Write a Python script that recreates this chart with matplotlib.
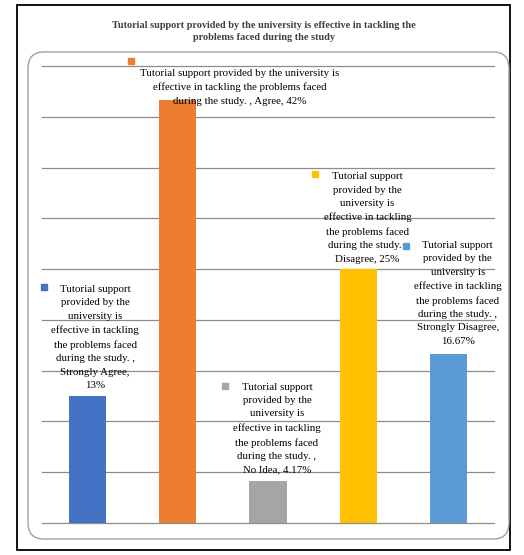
import numpy as np
import matplotlib
matplotlib.use("Agg")
import matplotlib.pyplot as plt
import matplotlib.transforms as mtransforms
from matplotlib.patches import Rectangle, FancyBboxPatch

# chart data
categories = ["Strongly Agree", "Agree", "No Idea", "Disagree", "Strongly Disagree"]
values = [12.5, 41.67, 4.17, 25.0, 16.67]
value_text = ["13%", "42%", "4.17%", "25%", "16.67%"]
colors = ["#4472C4", "#ED7D31", "#A5A5A5", "#FFC000", "#5B9BD5"]
series_name = "Tutorial support provided by the university is effective in tackling the problems faced during the study. "
title = "Tutorial support provided by the university is effective in tackling the\nproblems faced during the study"

# label wrapping (as Excel did it)
label_lines = [
    ["Tutorial support", "provided by the", "university is", "effective in tackling",
     "the problems faced", "during the study. ,", "Strongly Agree,", "13%"],
    ["Tutorial support provided by the university is", "effective in tackling the problems faced",
     "during the study. , Agree, 42%"],
    ["Tutorial support", "provided by the", "university is", "effective in tackling",
     "the problems faced", "during the study. ,", "No Idea, 4.17%"],
    ["Tutorial support", "provided by the", "university is", "effective in tackling",
     "the problems faced", "during the study. ,", "Disagree, 25%"],
    ["Tutorial support", "provided by the", "university is", "effective in tackling",
     "the problems faced", "during the study. ,", "Strongly Disagree,", "16.67%"],
]
# label placement relative to bar top (pixels): text block top-centre, legend key
text_offsets = [(8, 111), (62, 31), (9, 98), (9, 97), (9, 113)]
key_offsets = [(-43, 109), (-47, 39), (-43, 95), (-43, 95), (-43, 108)]

plt.rcParams["font.family"] = ["Liberation Serif", "DejaVu Serif"]

W, H = 524, 555
fig = plt.figure(figsize=(W / 100, H / 100), dpi=100)

# outer black frame and inner rounded chart-area border
fig.patches.append(Rectangle((17 / W, 5 / H), 493 / W, 545 / H, transform=fig.transFigure,
                             fill=False, edgecolor="black", linewidth=1.3))
fig.patches.append(FancyBboxPatch((28 / W, (H - 539) / H), 481 / W, 487 / H,
                                  boxstyle="round,pad=0,rounding_size=0.03",
                                  transform=fig.transFigure, fill=False,
                                  edgecolor="#A0A0A0", linewidth=1.0))

fig.text(264 / W, 1 - 31.5 / H, title, ha="center", va="center", fontsize=7.4,
         fontweight="bold", color="#404040", linespacing=1.3)

ax = fig.add_axes([42 / W, (H - 523) / H, 452 / W, 457 / H])
x = np.arange(len(categories))
ax.bar(x, values, width=0.41, color=colors, zorder=2)
ax.set_xlim(-0.5, len(categories) - 0.5)
ax.set_ylim(0, 45)
ax.set_yticks(np.arange(0, 46, 5))
ax.yaxis.grid(True, color="#8C8C8C", linewidth=0.9, zorder=0)
for gl in ax.get_ygridlines():
    gl.set_clip_on(False)
ax.tick_params(left=False, bottom=False, labelleft=False, labelbottom=False)
for s in ax.spines.values():
    s.set_visible(False)
ax.set_axisbelow(True)

for i, v in enumerate(values):
    dx, dy = text_offsets[i]
    ax.annotate("\n".join(label_lines[i]), xy=(i, v), xytext=(dx, dy),
                textcoords="offset pixels", ha="center", va="top",
                fontsize=7.8, color="#000000", linespacing=1.63, zorder=4,
                annotation_clip=False)
    kx, ky = key_offsets[i]
    tr = mtransforms.offset_copy(ax.transData, fig=fig, x=kx, y=ky, units="dots")
    ax.plot([i], [v], marker="s", markersize=3.8, color=colors[i], transform=tr,
            clip_on=False, zorder=5, linestyle="none")

fig.savefig("out.png", dpi=100)
